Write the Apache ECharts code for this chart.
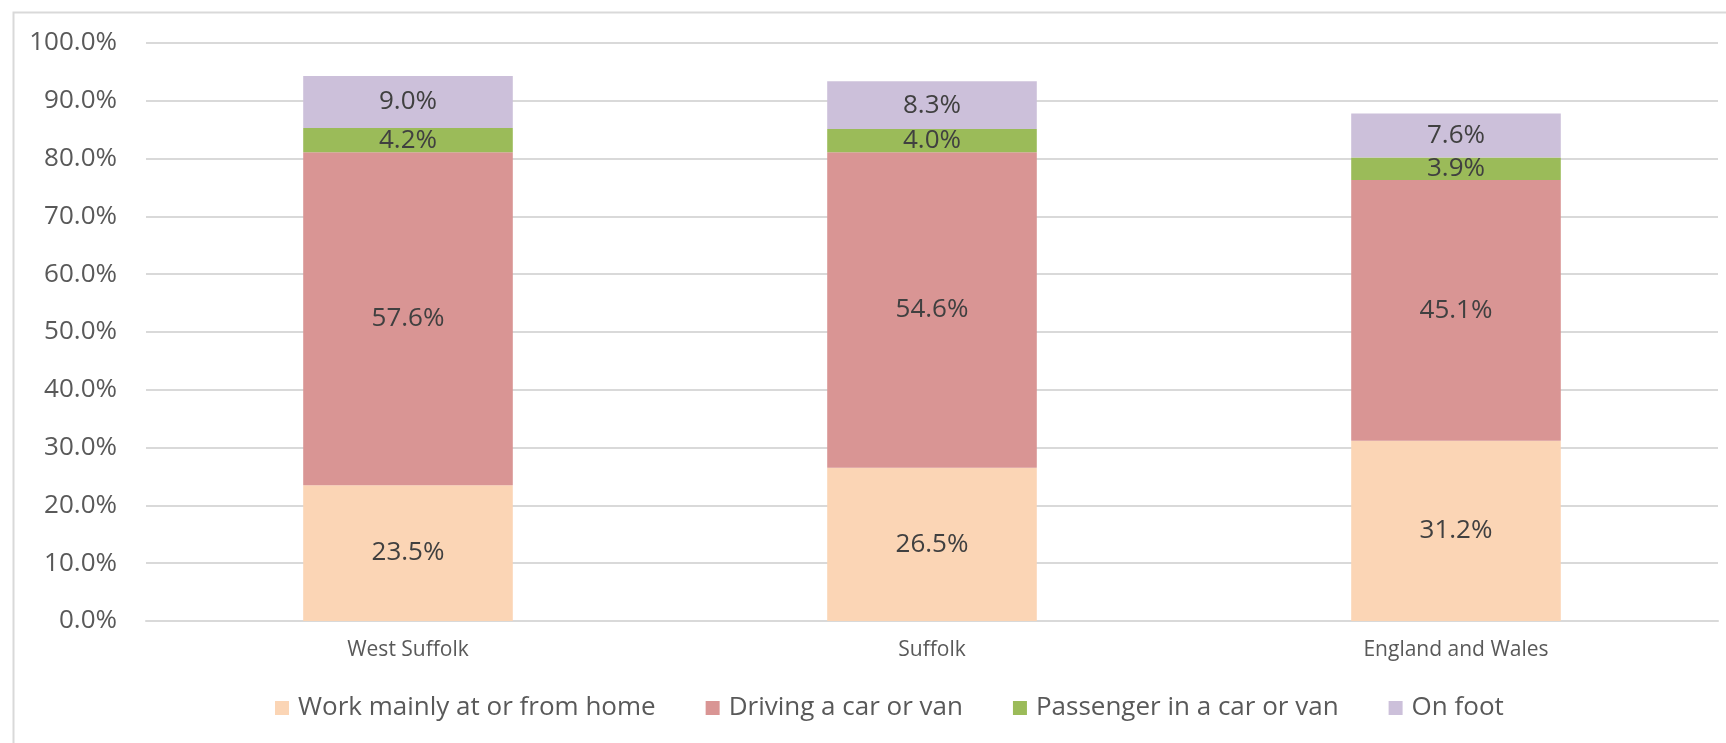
<!DOCTYPE html>
<html>
<head>
<meta charset="utf-8">
<script src="https://cdn.jsdelivr.net/npm/echarts@6/dist/echarts.min.js"></script>
<style>
    html, body {margin: 0; padding: 0; background: #fff;}
    #chart {width: 1726px; height: 743px;}
</style>
</head>
<body>
<div id="chart"></div>
<script>
var categories = ['West Suffolk', 'Suffolk', 'England and Wales'];
var workFromHome = [23.5, 26.5, 31.2];
var drivingCar = [57.6, 54.6, 45.1];
var passengerCar = [4.2, 4.0, 3.9];
var onFoot = [9.0, 8.3, 7.6];
var seriesNames = ['Work mainly at or from home', 'Driving a car or van', 'Passenger in a car or van', 'On foot'];

var font = '"Open Sans", "Noto Sans", sans-serif';

function barSeries(name, data, color) {
    return {
        name: name,
        type: 'bar',
        stack: 'total',
        barCategoryGap: '60%',
        itemStyle: {color: color},
        label: {
            show: true,
            position: 'inside',
            color: '#404040',
            fontFamily: font,
            fontSize: 26,
            formatter: function (p) {
                return p.value.toFixed(1) + '%';
            }
        },
        data: data
    };
}

var chart = echarts.init(document.getElementById('chart'));
chart.setOption({
    animation: false,
    grid: {left: 146, right: 8, top: 43, bottom: 122},
    graphic: [{
        type: 'polyline',
        shape: {points: [[13.5, 743], [13.5, 12.5], [1726, 12.5]]},
        style: {stroke: '#d9d9d9', fill: null, lineWidth: 2}
    }],
    legend: {
        data: seriesNames,
        bottom: 17,
        left: 270,
        itemWidth: 14,
        itemHeight: 14,
        itemGap: 50,
        icon: 'rect',
        textStyle: {fontFamily: font, fontSize: 26, color: '#595959', padding: [0, 0, 0, 4]}
    },
    xAxis: {
        type: 'category',
        data: categories,
        axisLine: {lineStyle: {color: '#d9d9d9', width: 2}},
        axisTick: {show: false},
        axisLabel: {fontFamily: font, fontSize: 21, color: '#595959', margin: 19}
    },
    yAxis: {
        type: 'value',
        min: 0,
        max: 100,
        interval: 10,
        axisLine: {show: false},
        axisTick: {show: false},
        splitLine: {lineStyle: {color: '#d9d9d9', width: 2}},
        axisLabel: {
            fontFamily: font,
            fontSize: 26,
            color: '#595959',
            margin: 29,
            formatter: function (v) {
                return v.toFixed(1) + '%';
            }
        }
    },
    series: [
        barSeries(seriesNames[0], workFromHome, '#fbd5b5'),
        barSeries(seriesNames[1], drivingCar, '#d99594'),
        barSeries(seriesNames[2], passengerCar, '#9bbb59'),
        barSeries(seriesNames[3], onFoot, '#ccc0da')
    ]
});
</script>
</body>
</html>
